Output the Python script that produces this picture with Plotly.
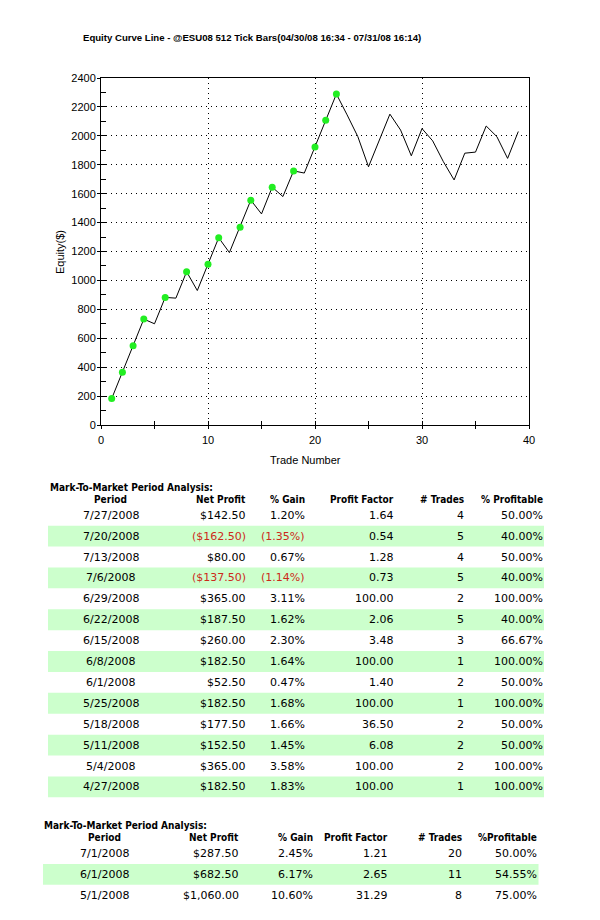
import plotly.graph_objects as go

# ---------------- data ----------------
trade_no = list(range(1, 40))
equity = [182.5, 365, 547.5, 732.5, 700, 882.5, 877.5, 1060, 930, 1112.5,
          1295, 1192.5, 1367.5, 1555, 1460, 1645, 1580, 1757.5, 1742.5, 1922.5,
          2107.5, 2289, 2145, 1995, 1786, 1970, 2150, 2040, 1862, 2050,
          1965, 1821, 1695, 1880, 1887.5, 2068, 1994, 1844, 2030]

title_text = "Equity Curve Line - @ESU08 512 Tick Bars(04/30/08 16:34 - 07/31/08 16:14)"

headers1 = ["Period", "Net Profit", "% Gain", "Profit Factor", "# Trades", "% Profitable"]
periods1 = ["7/27/2008", "7/20/2008", "7/13/2008", "7/6/2008", "6/29/2008", "6/22/2008",
            "6/15/2008", "6/8/2008", "6/1/2008", "5/25/2008", "5/18/2008", "5/11/2008",
            "5/4/2008", "4/27/2008"]
net1 = [142.5, -162.5, 80.0, -137.5, 365.0, 187.5, 260.0, 182.5, 52.5, 182.5, 177.5, 152.5, 365.0, 182.5]
gain1 = [1.20, -1.35, 0.67, -1.14, 3.11, 1.62, 2.30, 1.64, 0.47, 1.68, 1.66, 1.45, 3.58, 1.83]
pf1 = [1.64, 0.54, 1.28, 0.73, 100.00, 2.06, 3.48, 100.00, 1.40, 100.00, 36.50, 6.08, 100.00, 100.00]
trades1 = [4, 5, 4, 5, 2, 5, 3, 1, 2, 1, 2, 2, 2, 1]
prof1 = [50.00, 40.00, 50.00, 40.00, 100.00, 40.00, 66.67, 100.00, 50.00, 100.00, 50.00, 50.00, 100.00, 100.00]

headers2 = ["Period", "Net Profit", "% Gain", "Profit Factor", "# Trades", "%Profitable"]
periods2 = ["7/1/2008", "6/1/2008", "5/1/2008"]
net2 = [287.50, 682.50, 1060.00]
gain2 = [2.45, 6.17, 10.60]
pf2 = [1.21, 2.65, 31.29]
trades2 = [20, 11, 8]
prof2 = [50.00, 54.55, 75.00]

section_title = "Mark-To-Market Period Analysis:"

# ---------------- helpers ----------------
OFF = 8                      # page body margin in the browser
W, H = 600 - OFF, 920 - OFF


def px(x):
    return (x - OFF) / W


def py(y):
    return 1 - (y - OFF) / H


def money(v):
    s = "${:,.2f}".format(abs(v))
    return "(" + s + ")" if v < 0 else s


def pct(v):
    s = "{:.2f}%".format(abs(v))
    return "(" + s + ")" if v < 0 else s


# new equity highs get a green dot
hi_x, hi_y = [], []
run_max = float("-inf")
for n, e in zip(trade_no, equity):
    if e > run_max:
        hi_x.append(n)
        hi_y.append(e)
        run_max = e

AX_FONT = dict(family="Arial, Liberation Sans, sans-serif", size=11, color="black")
TB_FONT = "DejaVu Sans, Verdana, sans-serif"
TB_BOLD = "DejaVu Sans Condensed, Liberation Sans, sans-serif"
GRID_DASH = "1px,4px"

fig = go.Figure()
fig.add_trace(go.Scatter(x=trade_no, y=equity, mode="lines",
                         line=dict(color="black", width=1), hoverinfo="skip",
                         showlegend=False))
fig.add_trace(go.Scatter(x=hi_x, y=hi_y, mode="markers",
                         marker=dict(color="#22ee22", size=7, line=dict(width=0)),
                         hoverinfo="skip", showlegend=False))
# overlay axes to get ticks crossing the axis lines
fig.add_trace(go.Scatter(x=[None], y=[None], xaxis="x3", yaxis="y3",
                         mode="markers", showlegend=False, hoverinfo="skip"))

x_dom = [px(101), px(529)]
y_dom = [py(425), py(78)]

fig.update_layout(
    width=W, height=H,
    margin=dict(l=0, r=0, t=0, b=0),
    paper_bgcolor="white", plot_bgcolor="white",
    showlegend=False,
    xaxis=dict(domain=x_dom, range=[0, 40], dtick=10, tick0=0,
               showgrid=True, gridcolor="black", griddash=GRID_DASH, gridwidth=1,
               showline=True, linecolor="black", linewidth=1, mirror=True,
               ticks="inside", ticklen=4, tickcolor="black",
               minor=dict(dtick=5, ticks="inside", ticklen=4, tickcolor="black", showgrid=False),
               zeroline=False, tickfont=AX_FONT, ticklabelstandoff=5,
               automargin=False, fixedrange=True),
    yaxis=dict(domain=y_dom, range=[0, 2400], dtick=200, tick0=0,
               showgrid=True, gridcolor="black", griddash=GRID_DASH, gridwidth=1,
               showline=True, linecolor="black", linewidth=1, mirror=True,
               ticks="inside", ticklen=5, tickcolor="black",
               minor=dict(dtick=100, ticks="inside", ticklen=5, tickcolor="black", showgrid=False),
               zeroline=False, tickfont=AX_FONT, ticklabelstandoff=2,
               automargin=False, fixedrange=True),
    xaxis3=dict(overlaying="x", anchor="y3", range=[0, 40], dtick=5, tick0=0,
                showgrid=False, showline=False, zeroline=False, showticklabels=False,
                ticks="outside", ticklen=3, tickcolor="black", automargin=False),
    yaxis3=dict(overlaying="y", anchor="x3", range=[0, 2400], dtick=200, tick0=0,
                showgrid=False, showline=False, zeroline=False, showticklabels=False,
                ticks="outside", ticklen=3, tickcolor="black", automargin=False),
)

ann = []
shapes = []

ann.append(dict(text="<b>" + title_text + "</b>", x=px(252), y=py(37),
                xref="paper", yref="paper", xanchor="center", yanchor="middle",
                showarrow=False, font=dict(family="Arial, Liberation Sans, sans-serif", size=9.6, color="black")))
ann.append(dict(text="Trade Number", x=px(305), y=py(460), xref="paper", yref="paper",
                xanchor="center", yanchor="middle", showarrow=False, font=AX_FONT))
ann.append(dict(text="Equity($)", x=px(60), y=py(252), xref="paper", yref="paper",
                xanchor="center", yanchor="middle", textangle=-90, showarrow=False, font=AX_FONT))


def add_table(title_xy, header_y, row0_y, row_h, band_x, col_pos, headers, cols, neg_flags):
    tx, ty = title_xy
    ann.append(dict(text="<b>" + section_title + "</b>", x=px(tx), y=py(ty),
                    xref="paper", yref="paper", xanchor="left", yanchor="middle",
                    showarrow=False, font=dict(family=TB_BOLD, size=10, color="black")))
    anchors = ["center", "right", "right", "right", "right", "right"]
    for j, h in enumerate(headers):
        ann.append(dict(text="<b>" + h + "</b>", x=px(col_pos[j]), y=py(header_y),
                        xref="paper", yref="paper", xanchor=anchors[j], yanchor="middle",
                        showarrow=False, font=dict(family=TB_BOLD, size=10, color="black")))
    nrows = len(cols[0])
    for i in range(nrows):
        cy = row0_y + i * row_h
        if i % 2 == 1:
            shapes.append(dict(type="rect", xref="paper", yref="paper",
                               x0=px(band_x[0]), x1=px(band_x[1]),
                               y0=py(cy - row_h / 2), y1=py(cy + row_h / 2),
                               fillcolor="#ccffcc", line=dict(width=0), layer="below"))
        for j in range(6):
            red = neg_flags[i] and j in (1, 2)
            ann.append(dict(text=cols[j][i], x=px(col_pos[j]), y=py(cy),
                            xref="paper", yref="paper", xanchor=anchors[j], yanchor="middle",
                            showarrow=False,
                            font=dict(family=TB_FONT, size=11, color="#cc2a1a" if red else "black")))


cols1 = [periods1, [money(v) for v in net1], [pct(v) for v in gain1],
         ["{:.2f}".format(v) for v in pf1], [str(v) for v in trades1],
         ["{:.2f}%".format(v) for v in prof1]]
add_table((48, 487), 499, 515.2, 20.9, (48, 544),
          [110.5, 247.5, 306.5, 395.5, 465.5, 545], headers1, cols1, [v < 0 for v in net1])

cols2 = [periods2, [money(v) for v in net2], [pct(v) for v in gain2],
         ["{:.2f}".format(v) for v in pf2], [str(v) for v in trades2],
         ["{:.2f}%".format(v) for v in prof2]]
add_table((42, 825.7), 837.7, 853.5, 20.8, (43, 538.5),
          [104, 240.5, 315, 389.5, 464, 539], headers2, cols2, [v < 0 for v in net2])

fig.update_layout(annotations=ann, shapes=shapes)

fig.write_html("out.html")
